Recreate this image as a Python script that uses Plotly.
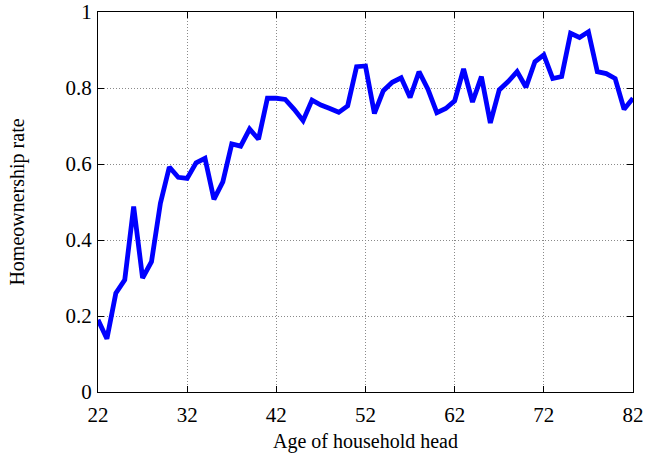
import plotly.graph_objects as go

ages = list(range(22, 83))
rates = [0.19, 0.14, 0.26, 0.295, 0.488, 0.30, 0.343, 0.497, 0.592, 0.565,
         0.562, 0.603, 0.615, 0.507, 0.553, 0.653, 0.647, 0.692, 0.665, 0.773,
         0.773, 0.770, 0.744, 0.714, 0.768, 0.755, 0.746, 0.736, 0.753, 0.856,
         0.858, 0.733, 0.793, 0.815, 0.827, 0.775, 0.843, 0.797, 0.735, 0.746,
         0.766, 0.850, 0.763, 0.830, 0.708, 0.795, 0.817, 0.843, 0.802, 0.869,
         0.887, 0.825, 0.830, 0.944, 0.933, 0.948, 0.843, 0.838, 0.825, 0.744,
         0.773]
x_ticks = [22, 32, 42, 52, 62, 72, 82]
y_ticks = [0, 0.2, 0.4, 0.6, 0.8, 1]
y_tick_labels = ["0", "0.2", "0.4", "0.6", "0.8", "1"]

FONT = "Liberation Serif"

fig = go.Figure(go.Scatter(x=ages, y=rates, mode="lines",
                           line=dict(color="#0000ff", width=4.8)))

axis_common = dict(showline=True, linecolor="black", linewidth=1.2, mirror="ticks",
                   ticks="inside", ticklen=6, tickcolor="black", tickwidth=1,
                   showgrid=True, gridcolor="#8a8a8a", griddash="1px,2px", gridwidth=1,
                   zeroline=False, automargin=False,
                   tickfont=dict(family=FONT, size=21, color="black"))

fig.update_layout(
    width=648, height=453,
    margin=dict(l=98, r=15, t=12, b=61, autoexpand=False),
    paper_bgcolor="white", plot_bgcolor="white",
    showlegend=False,
    xaxis=dict(range=[22, 82], tickvals=x_ticks, ticklabelstandoff=4,
               title=dict(text="Age of household head", standoff=18,
                          font=dict(family=FONT, size=20, color="black")),
               **axis_common),
    yaxis=dict(range=[0, 1], tickvals=y_ticks, ticktext=y_tick_labels,
               ticklabelstandoff=1,
               title=dict(text="Homeownership rate", standoff=35,
                          font=dict(family=FONT, size=20, color="black")),
               **axis_common),
)

fig.write_html("out.html", config={"displayModeBar": False},
               post_script="document.body.style.margin='0';")
